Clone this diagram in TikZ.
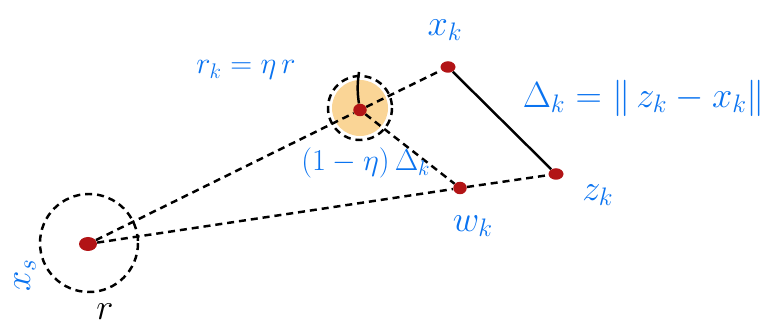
\documentclass[tikz,border=0pt]{standalone}
\usetikzlibrary{shapes.geometric, positioning}
\definecolor{penblue}{RGB}{10,115,240}
\definecolor{dotred}{RGB}{178,20,22}
\definecolor{ballfill}{RGB}{250,213,150}

\begin{document}
\begin{tikzpicture}[
    x=0.02cm, y=-0.02cm,
    dot/.style={ellipse, fill=dotred, inner sep=0pt, minimum width=0.3cm, minimum height=0.23cm},
    lbl/.style={text=penblue, font=\fontsize{20}{24}\selectfont},
    guide/.style={dash pattern=on 4pt off 2.8pt, line width=1.4pt},
    seg/.style={line width=1.4pt}
]
    \useasboundingbox (0,0) rectangle (767,327);

    % balls
    \fill[ballfill] (360,108) circle[radius=28];
    \draw[guide] (360,108) circle[radius=32];
    \draw[guide] (89,243) circle[radius=49];

    % points
    \node[dot, minimum width=0.36cm, minimum height=0.28cm] (xs) at (88,244) {};
    \node[dot, minimum width=0.27cm, minimum height=0.25cm] (c) at (360,110) {};
    \node[dot] (xk) at (448,67) {};
    \node[dot, minimum width=0.27cm, minimum height=0.25cm] (wk) at (460,188) {};
    \node[dot] (zk) at (556,174) {};
    \coordinate (rk) at (359,72);

    % connectors
    \draw[guide] (xs) -- (c);
    \draw[guide] (c) -- (xk);
    \draw[guide] (c) -- (wk);
    \draw[guide] (xs) -- (wk);
    \draw[guide] (wk) -- (zk);
    \draw[seg] (xk) -- (zk);
    \draw[seg] (c) to[bend left=8] (rk);

    % labels
    \node[lbl, rotate=90] (lxs) at (25,275) {$x_s$};
    \node[font=\fontsize{20}{24}\selectfont] (lr) at (105,312) {$r$};
    \node[lbl, font=\fontsize{18}{22}\selectfont] (lrk) at (246,70) {$r_k=\eta\, r$};
    \node[lbl] (lxk) at (445,30) {$x_k$};
    \node[lbl, font=\fontsize{17}{21}\selectfont] (lshrink) at (366,163) {$(1-\eta)\,\Delta_k$};
    \node[lbl] (ldelta) at (644,98) {$\Delta_k=\|\, z_k-x_k \|$};
    \node[lbl] (lzk) at (598,195) {$z_k$};
    \node[lbl] (lwk) at (473,226) {$w_k$};
\end{tikzpicture}
\end{document}
